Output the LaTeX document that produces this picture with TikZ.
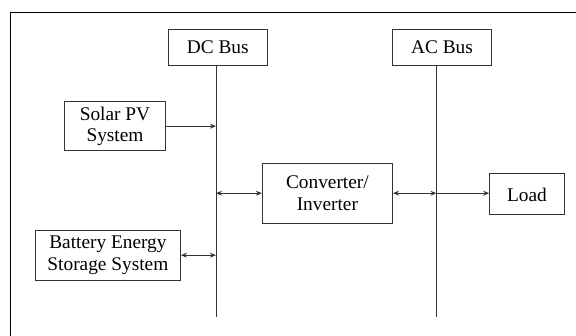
\documentclass[tikz,border=0pt]{standalone}
\usepackage{fontspec}
\setmainfont{Liberation Serif}
\usepackage{tikz}
\usetikzlibrary{
  arrows.meta,
  calc
}
\definecolor{linegray}{HTML}{333333}
\tikzset{
  block/.style={
    rectangle,
    draw=linegray,
    line width=0.75pt,
    fill=white,
    align=center,
    inner sep=1pt,
    font=\fontsize{14.5}{16.2}\selectfont
  },
  busline/.style={
    draw=linegray,
    line width=0.75pt
  },
  arrow/.style={
    -{Stealth[length=4.5pt,width=3.6pt]},
    line width=0.75pt,
    draw=linegray
  },
  darrow/.style={
    {Stealth[length=4.5pt,width=3.6pt]}-{Stealth[length=4.5pt,width=3.6pt]},
    line width=0.75pt,
    draw=linegray
  }
}
\begin{document}
\begin{tikzpicture}[x=0.75pt,y=0.75pt]
\useasboundingbox (0,0) rectangle (576,336);
% outer frame, running off the page at right and bottom
\draw[line width=1.1pt] (590,323.3) -- (10.7,323.3) -- (10.7,-10);

\node[block, minimum width=99.5*0.75pt, minimum height=35.3*0.75pt] (dcbus) at (217.8,288.4) {DC Bus};
\node[block, minimum width=99*0.75pt, minimum height=35.3*0.75pt] (acbus) at (442,288.4) {AC Bus};
\node[block, minimum width=101.4*0.75pt, minimum height=49*0.75pt] (solar) at (115,209.8) {Solar PV\\System};
\node[block, minimum width=145*0.75pt, minimum height=49.7*0.75pt] (battery) at (107.9,80.8) {Battery Energy\\Storage System};
\node[block, minimum width=130*0.75pt, minimum height=60.3*0.75pt] (conv) at (327.4,142.8) {Converter/\\Inverter};
\node[block, minimum width=74.6*0.75pt, minimum height=41*0.75pt] (load) at (527,141.5) {Load};

\coordinate (dcend) at (216,19.3);
\coordinate (acend) at (436.4,19.3);

% buses
\draw[busline] (dcbus.south -| dcend) -- (dcend);
\draw[busline] (acbus.south -| acend) -- (acend);

% connections
\draw[arrow] (solar.east) -- (solar.east -| dcend);
\draw[darrow] (battery.east) -- (battery.east -| dcend);
\draw[darrow] (conv.west -| dcend) -- (conv.west);
\draw[darrow] (conv.east) -- (conv.east -| acend);
\draw[arrow] (conv.east -| acend) -- (load.west |- conv.east);
\end{tikzpicture}
\end{document}
